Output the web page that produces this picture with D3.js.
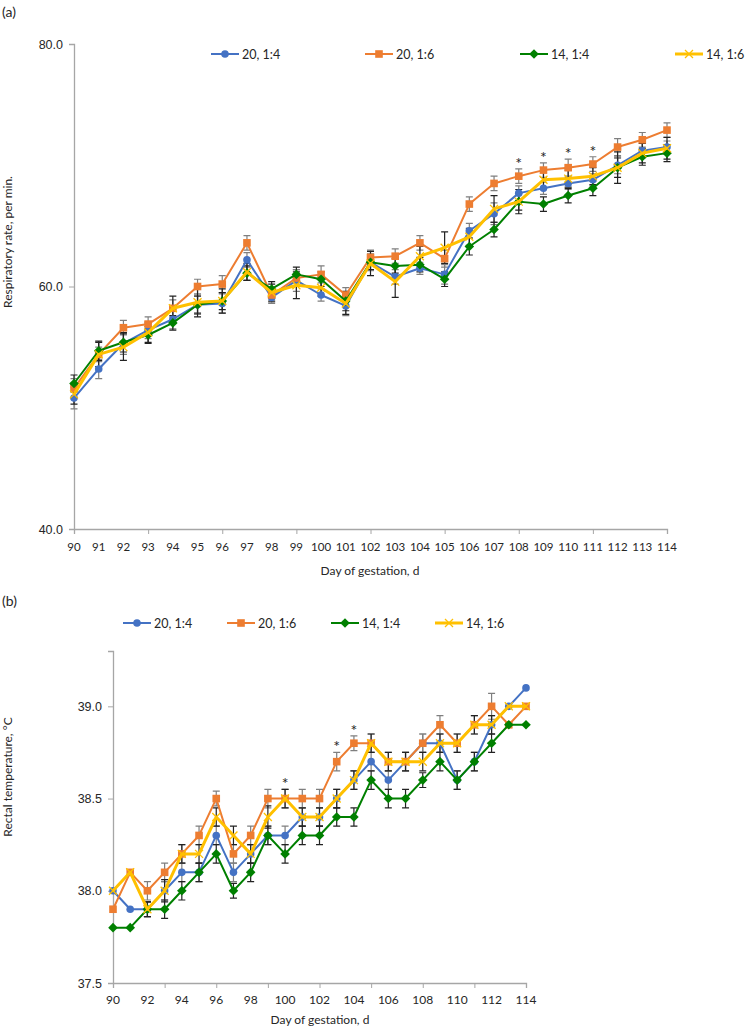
<!DOCTYPE html>
<html><head><meta charset="utf-8">
<script src="https://cdn.jsdelivr.net/npm/d3@7"></script>
<style>
body{margin:0;background:#fff;}
svg{display:block;font-family:Lato,"Open Sans",sans-serif;}
</style></head>
<body><svg id="c" width="751" height="1033"></svg>
<script>
const days = [90,91,92,93,94,95,96,97,98,99,100,101,102,103,104,105,106,107,108,109,110,111,112,113,114];
const seriesNames = ["20, 1:4","20, 1:6","14, 1:4","14, 1:6"];

// Panel (a): respiratory rate
const respBlue   = [50.8,53.2,55.3,56.4,57.3,58.5,58.6,62.2,59.1,60.5,59.3,58.4,62.0,60.8,61.5,61.0,64.6,66.0,67.7,68.1,68.5,68.8,70.0,71.2,71.5];
const respOrange = [51.6,54.4,56.6,56.9,58.2,60.0,60.2,63.6,59.3,60.7,61.0,59.3,62.4,62.5,63.6,62.3,66.8,68.5,69.1,69.6,69.8,70.1,71.5,72.1,72.9];
const respGreen  = [52.0,54.7,55.4,56.0,57.0,58.5,58.8,61.1,59.8,61.0,60.6,58.8,62.0,61.7,61.8,60.6,63.3,64.7,67.0,66.8,67.5,68.1,69.8,70.7,71.0];
const respYellow = [51.1,54.4,55.0,56.2,58.2,58.7,58.8,61.2,59.5,60.1,59.9,58.6,61.9,60.4,62.5,63.2,64.1,66.4,67.0,68.8,68.9,69.1,69.8,71.0,71.4];
const respErrBlue   = [0.9,0.8,0.9,0.7,0.8,0.8,0.8,0.6,0.5,0.9,0.5,0.8,0.7,0.6,0.5,0.8,0.6,0.9,0.6,0.5,0.5,0.5,0.7,0.6,0.5];
const respErrOrange = [0.8,0.6,0.6,0.6,0.7,0.6,0.7,0.6,0.6,0.7,0.7,0.6,0.6,0.6,0.6,0.7,0.6,0.6,0.6,0.6,0.7,0.6,0.7,0.6,0.6];
const respErrGreen  = [0.7,0.8,0.8,0.7,0.6,0.7,0.7,0.6,0.6,0.6,0.6,0.8,0.6,0.6,0.6,0.6,0.7,0.6,0.7,0.6,0.6,0.6,0.8,0.7,0.7];
const respErrYellow = [0.8,1.0,1.1,0.8,1.0,1.2,1.0,0.7,0.7,1.1,0.7,0.9,1.0,1.3,0.8,1.3,0.7,1.1,1.0,0.7,0.7,0.7,1.3,0.8,0.9];
const respTicks = [40,60,80];
const respStars = [108,109,110,111];

// Panel (b): rectal temperature
const tempBlue   = [38.0,37.9,37.9,38.0,38.1,38.1,38.3,38.1,38.2,38.3,38.3,38.4,38.4,38.5,38.6,38.7,38.6,38.7,38.8,38.8,38.6,38.7,38.9,39.0,39.1];
const tempOrange = [37.9,38.1,38.0,38.1,38.2,38.3,38.5,38.2,38.3,38.5,38.5,38.5,38.5,38.7,38.8,38.8,38.7,38.7,38.8,38.9,38.8,38.9,39.0,38.9,39.0];
const tempGreen  = [37.8,37.8,37.9,37.9,38.0,38.1,38.2,38.0,38.1,38.3,38.2,38.3,38.3,38.4,38.4,38.6,38.5,38.5,38.6,38.7,38.6,38.7,38.8,38.9,38.9];
const tempYellow = [38.0,38.1,37.9,38.0,38.2,38.2,38.4,38.3,38.2,38.4,38.5,38.4,38.4,38.5,38.6,38.8,38.7,38.7,38.7,38.8,38.8,38.9,38.9,39.0,39.0];
const tempErrBlue   = [0,0,0.04,0.05,0.05,0.05,0.05,0.05,0.05,0.05,0.05,0.05,0.05,0.05,0.05,0.05,0.05,0.05,0.05,0.05,0.05,0.05,0.05,0,0];
const tempErrOrange = [0,0,0.05,0.05,0.05,0.05,0.04,0.05,0.05,0.05,0.05,0.05,0.05,0.05,0.04,0.05,0.05,0.05,0.05,0.05,0.05,0.05,0.07,0,0];
const tempErrGreen  = [0,0,0.04,0.05,0.05,0.05,0.05,0.04,0.05,0.05,0.05,0.05,0.05,0.05,0.05,0.05,0.05,0.05,0.04,0.05,0.05,0.05,0.05,0,0];
const tempErrYellow = [0,0,0.04,0.06,0.05,0.05,0.05,0.05,0.05,0.06,0.05,0.05,0.05,0.05,0.05,0.05,0.05,0.05,0.05,0.05,0.05,0.05,0.05,0,0];
const tempTicks = [37.5,38.0,38.5,39.0];
const tempStars = [100,103,104];

const colors = ["#4472C4","#ED7D31","#008000","#FFC000"];
const shapes = ["circle","square","diamond","x"];
const widths = [2,2,2,3];
const errColors = ["#7f7f7f","#7f7f7f","#222","#222"];

const svg = d3.select("#c");
const axisColor = "#a6a6a6";
const textColor = "#262626";

function marker(g, shape, color, x, y){
  if(shape==="circle") g.append("circle").attr("cx",x).attr("cy",y).attr("r",3.8).attr("fill",color);
  else if(shape==="square") g.append("rect").attr("x",x-3.8).attr("y",y-3.8).attr("width",7.6).attr("height",7.6).attr("fill",color);
  else if(shape==="diamond") g.append("path").attr("d",`M${x},${y-4.8}L${x+4.8},${y}L${x},${y+4.8}L${x-4.8},${y}Z`).attr("fill",color);
  else g.append("path").attr("d",`M${x-4},${y-4}L${x+4},${y+4}M${x-4},${y+4}L${x+4},${y-4}`).attr("stroke",color).attr("stroke-width",1.3);
}

function panel(cfg){
  const x = d3.scalePoint().domain(days).range([cfg.x0, cfg.x1]).padding(0);
  const y = d3.scaleLinear().domain(cfg.yDomain).range([cfg.yBottom, cfg.yTop]);
  const g = svg.append("g");

  const ya = g.append("g").attr("transform",`translate(${cfg.x0},0)`)
    .call(d3.axisLeft(y).tickValues(cfg.yTicks).tickFormat(d3.format(".1f")).tickSizeOuter(0).tickSize(5).tickPadding(6));
  ya.select(".domain").attr("stroke",axisColor).attr("stroke-width",1.3);
  ya.selectAll(".tick line").attr("stroke",axisColor);
  ya.selectAll(".tick text").attr("fill",textColor).style("font-size","12.5px");

  const tickDays = days.filter((d,i)=>i%3===0);
  const xa = g.append("g").attr("transform",`translate(0,${cfg.yBottom})`)
    .call(d3.axisBottom(x).tickValues(tickDays).tickFormat("").tickSizeOuter(0).tickSize(5));
  xa.select(".domain").attr("stroke",axisColor).attr("stroke-width",1.3);
  xa.selectAll(".tick line").attr("stroke",axisColor);
  g.selectAll(".xl").data(days.filter((d,i)=>i%cfg.labelStep===0)).join("text")
    .attr("x",d=>x(d)).attr("y",cfg.yBottom+cfg.labelDy).attr("text-anchor","middle")
    .attr("fill",textColor).style("font-size",cfg.xFont).text(d=>d);

  g.append("text").attr("x",cfg.xTitleX).attr("y",cfg.xTitleY).attr("text-anchor","middle")
    .attr("fill",textColor).style("font-size","12px").text("Day of gestation, d");
  g.append("text").attr("transform",`translate(${cfg.yTitleX},${cfg.yTitleY}) rotate(-90)`)
    .attr("text-anchor","middle").attr("fill",textColor).style("font-size","12px").text(cfg.yTitle);
  g.append("text").attr("x",2).attr("y",cfg.tagY).attr("fill",textColor).style("font-size","14px").text(cfg.tag);

  cfg.series.forEach((vals,si)=>{
    const errs = cfg.errs[si];
    const sg = g.append("g");
    vals.forEach((v,i)=>{
      const e = errs[i];
      if(e>0){
        const xx = x(days[i]);
        const y1 = y(v+e), y2 = y(v-e);
        sg.append("path").attr("d",`M${xx},${y1}V${y2}M${xx-3.5},${y1}H${xx+3.5}M${xx-3.5},${y2}H${xx+3.5}`)
          .attr("stroke",errColors[si]).attr("stroke-width",1.2).attr("fill","none");
      }
    });
  });
  cfg.series.forEach((vals,si)=>{
    const sg = g.append("g");
    const line = d3.line().x((d,i)=>x(days[i])).y(d=>y(d));
    sg.append("path").datum(vals).attr("d",line).attr("fill","none")
      .attr("stroke",colors[si]).attr("stroke-width",widths[si]).attr("stroke-linejoin","round");
    vals.forEach((v,i)=>marker(sg,shapes[si],colors[si],x(days[i]),y(v)));
  });

  cfg.stars.forEach(d=>{
    const i = days.indexOf(d);
    const top = d3.max(cfg.series.map((s,si)=>s[i]+cfg.errs[si][i]));
    g.append("text").attr("x",x(d)).attr("y",y(top)+cfg.starGap).attr("text-anchor","middle")
      .attr("fill",textColor).style("font-size","16px").text("*");
  });

  seriesNames.forEach((n,si)=>{
    const lx = cfg.legendX[si], ly = cfg.legendY;
    const lg = g.append("g");
    lg.append("line").attr("x1",lx).attr("x2",lx+28).attr("y1",ly).attr("y2",ly)
      .attr("stroke",colors[si]).attr("stroke-width",widths[si]);
    marker(lg,shapes[si],colors[si],lx+14,ly);
    lg.append("text").attr("x",lx+31).attr("y",ly+4.5).attr("fill",textColor)
      .style("font-size","12.5px").text(n);
  });
}

panel({
  x0:74, x1:667, yBottom:529, yTop:44, yDomain:[40,80], yTicks:respTicks,
  labelStep:1, labelDy:22, xFont:"11.5px",
  xTitleX:370, xTitleY:575, yTitle:"Respiratory rate, per min.", yTitleX:12, yTitleY:242,
  tag:"(a)", tagY:17,
  series:[respBlue,respOrange,respGreen,respYellow],
  errs:[respErrBlue,respErrOrange,respErrGreen,respErrYellow],
  stars:respStars, starGap:0,
  legendX:[211,365,520,675], legendY:54
});

panel({
  x0:113, x1:526, yBottom:983, yTop:651, yDomain:[37.5,39.3], yTicks:tempTicks,
  labelStep:2, labelDy:21, xFont:"12px",
  xTitleX:320, xTitleY:1024, yTitle:"Rectal temperature, °C", yTitleX:12, yTitleY:777,
  tag:"(b)", tagY:606,
  series:[tempBlue,tempOrange,tempGreen,tempYellow],
  errs:[tempErrBlue,tempErrOrange,tempErrGreen,tempErrYellow],
  stars:tempStars, starGap:0,
  legendX:[123,227,331,435], legendY:623
});
</script></body></html>
